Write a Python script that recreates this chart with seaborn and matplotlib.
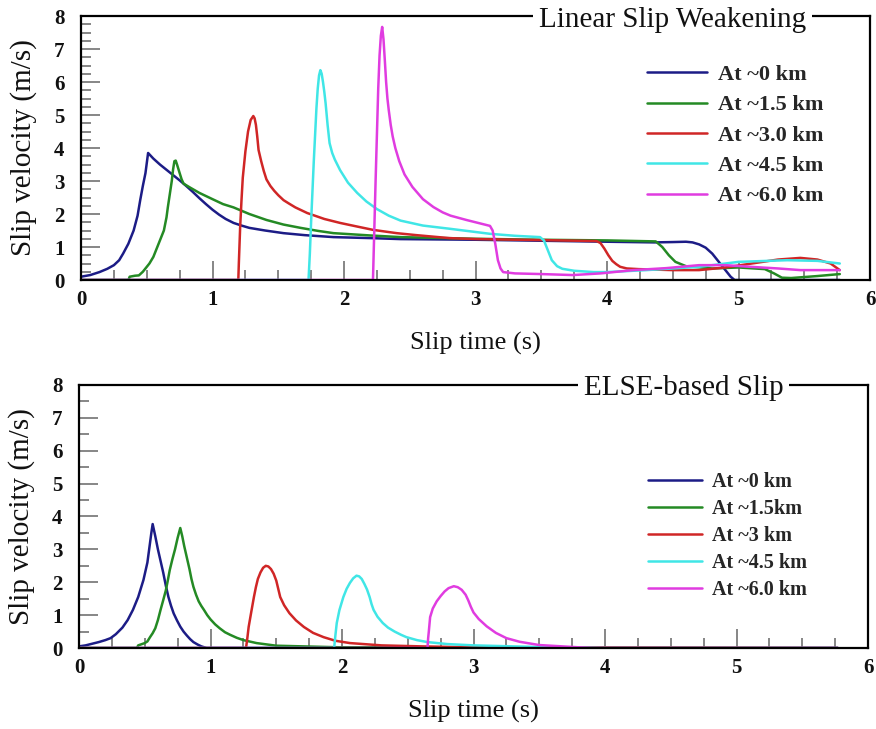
import matplotlib
matplotlib.use("Agg")
import matplotlib.pyplot as plt
from matplotlib.ticker import MultipleLocator
import pandas as pd
import seaborn as sns

# ---------------- Linear slip weakening: slip-velocity histories ----------------
lsw_labels = ["At ~0 km", "At ~1.5 km", "At ~3.0 km", "At ~4.5 km", "At ~6.0 km"]

lsw_t_0km = [0, 0.07, 0.14, 0.20, 0.25, 0.29, 0.32, 0.36, 0.40, 0.43, 0.45, 0.47, 0.49,
             0.51, 0.55, 0.60, 0.65, 0.70, 0.75, 0.80, 0.85, 0.90, 0.95, 1.00, 1.05, 1.10,
             1.16, 1.22, 1.28, 1.40, 1.54, 1.70, 1.92, 2.20, 2.43, 3.0, 3.5, 4.0, 4.36,
             4.50, 4.60, 4.65, 4.70, 4.75, 4.80, 4.85, 4.90, 4.94, 4.97, 5.3, 5.77]
lsw_v_0km = [0.10, 0.15, 0.24, 0.34, 0.45, 0.60, 0.80, 1.10, 1.50, 1.95, 2.42, 2.85, 3.24,
             3.85, 3.68, 3.50, 3.34, 3.18, 3.02, 2.85, 2.67, 2.48, 2.30, 2.13, 1.98, 1.85,
             1.73, 1.65, 1.58, 1.50, 1.42, 1.36, 1.30, 1.27, 1.24, 1.22, 1.19, 1.16, 1.14,
             1.15, 1.16, 1.14, 1.08, 0.98, 0.80, 0.55, 0.30, 0.10, 0.0, 0.0, 0.0]

lsw_t_1p5km = [0, 0.36, 0.37, 0.41, 0.44, 0.47, 0.49, 0.52, 0.55, 0.57, 0.60, 0.63, 0.65,
               0.66, 0.675, 0.69, 0.70, 0.71, 0.72, 0.73, 0.75, 0.765, 0.78, 0.83, 0.90,
               1.00, 1.08, 1.16, 1.28, 1.41, 1.54, 1.67, 1.80, 1.92, 2.20, 2.43, 3.0, 3.5,
               4.0, 4.37, 4.42, 4.47, 4.52, 4.60, 4.80, 5.0, 5.2, 5.27, 5.33, 5.40, 5.6, 5.77]
lsw_v_1p5km = [0.0, 0.0, 0.10, 0.13, 0.14, 0.25, 0.35, 0.50, 0.70, 0.90, 1.20, 1.50, 1.90,
               2.20, 2.60, 3.00, 3.35, 3.60, 3.62, 3.50, 3.24, 3.05, 2.92, 2.80, 2.64,
               2.45, 2.30, 2.20, 2.00, 1.82, 1.68, 1.58, 1.49, 1.42, 1.35, 1.30, 1.25, 1.22,
               1.20, 1.17, 1.00, 0.75, 0.55, 0.42, 0.35, 0.38, 0.33, 0.20, 0.07, 0.06, 0.12, 0.18]

lsw_t_3km = [0, 1.196, 1.20, 1.21, 1.22, 1.23, 1.25, 1.27, 1.29, 1.31, 1.32, 1.33, 1.34,
             1.35, 1.37, 1.39, 1.41, 1.44, 1.47, 1.50, 1.54, 1.58, 1.63, 1.72, 1.85, 1.97,
             2.10, 2.22, 2.40, 2.55, 2.80, 3.0, 3.5, 3.92, 3.95, 3.98, 4.01, 4.04, 4.07,
             4.10, 4.15, 4.24, 4.5, 4.7, 4.9, 5.1, 5.3, 5.47, 5.6, 5.7, 5.77]
lsw_v_3km = [0.0, 0.0, 0.50, 1.60, 2.40, 3.10, 3.90, 4.50, 4.85, 4.97, 4.90, 4.70, 4.35,
             3.94, 3.60, 3.30, 3.05, 2.85, 2.70, 2.57, 2.42, 2.32, 2.20, 2.03, 1.85, 1.73,
             1.62, 1.52, 1.42, 1.36, 1.27, 1.24, 1.21, 1.18, 1.12, 0.95, 0.75, 0.58, 0.48,
             0.40, 0.35, 0.33, 0.30, 0.30, 0.38, 0.50, 0.62, 0.67, 0.62, 0.50, 0.30]

lsw_t_4p5km = [0, 1.73, 1.74, 1.75, 1.76, 1.77, 1.78, 1.79, 1.80, 1.81, 1.82, 1.83, 1.84,
               1.85, 1.86, 1.875, 1.89, 1.91, 1.93, 1.97, 2.03, 2.10, 2.17, 2.25, 2.34, 2.43,
               2.60, 2.81, 3.11, 3.30, 3.49, 3.52, 3.55, 3.58, 3.62, 3.66, 3.75, 3.90, 4.0,
               4.3, 4.7, 5.0, 5.37, 5.6, 5.77]
lsw_v_4p5km = [0.0, 0.0, 0.80, 1.80, 2.70, 3.60, 4.40, 5.20, 5.80, 6.20, 6.36, 6.25, 6.00,
               5.70, 5.35, 4.70, 4.15, 3.85, 3.65, 3.33, 2.95, 2.64, 2.38, 2.15, 1.95, 1.80,
               1.65, 1.55, 1.40, 1.34, 1.30, 1.20, 0.90, 0.60, 0.42, 0.34, 0.28, 0.24, 0.24,
               0.30, 0.40, 0.55, 0.60, 0.58, 0.50]

lsw_t_6km = [0, 2.22, 2.23, 2.24, 2.25, 2.26, 2.27, 2.28, 2.29, 2.30, 2.31, 2.32, 2.33,
             2.34, 2.355, 2.37, 2.39, 2.42, 2.46, 2.52, 2.60, 2.68, 2.75, 2.81, 2.93, 3.05,
             3.11, 3.13, 3.15, 3.17, 3.19, 3.21, 3.30, 3.50, 3.74, 3.95, 4.2, 4.45, 4.7,
             4.9, 5.09, 5.3, 5.47, 5.77]
lsw_v_6km = [0.0, 0.0, 1.50, 3.00, 4.40, 5.80, 6.80, 7.40, 7.67, 7.30, 6.67, 6.00, 5.50,
             5.15, 4.70, 4.35, 4.00, 3.60, 3.20, 2.82, 2.45, 2.21, 2.05, 1.95, 1.82, 1.70,
             1.64, 1.50, 1.10, 0.60, 0.35, 0.24, 0.20, 0.18, 0.15, 0.20, 0.30, 0.36, 0.45,
             0.45, 0.40, 0.35, 0.30, 0.30]

# ---------------- ELSE-based slip: slip-velocity histories ----------------
else_labels = ["At ~0 km", "At ~1.5km", "At ~3 km", "At ~4.5 km", "At ~6.0 km"]

else_t_0km = [0, 0.05, 0.10, 0.15, 0.20, 0.24, 0.28, 0.33, 0.37, 0.41, 0.45, 0.49, 0.52,
              0.54, 0.55, 0.56, 0.58, 0.60, 0.62, 0.64, 0.66, 0.68, 0.70, 0.72, 0.745,
              0.77, 0.795, 0.82, 0.845, 0.87, 0.90, 0.93, 0.97, 1.3, 5.77]
else_v_0km = [0.05, 0.08, 0.13, 0.18, 0.24, 0.30, 0.42, 0.62, 0.85, 1.16, 1.55, 2.07, 2.60,
              3.20, 3.50, 3.77, 3.40, 3.00, 2.65, 2.30, 1.90, 1.55, 1.28, 1.05, 0.84,
              0.65, 0.50, 0.38, 0.27, 0.18, 0.11, 0.05, 0.0, 0.0, 0.0]

else_t_1p5km = [0, 0.44, 0.45, 0.50, 0.52, 0.54, 0.56, 0.58, 0.60, 0.62, 0.64, 0.66, 0.675,
                0.69, 0.71, 0.73, 0.75, 0.77, 0.785, 0.80, 0.82, 0.84, 0.855, 0.87, 0.89,
                0.91, 0.93, 0.95, 0.975, 1.0, 1.035, 1.07, 1.11, 1.15, 1.20, 1.25, 1.35,
                1.5, 2.0, 5.77]
else_v_1p5km = [0.0, 0.0, 0.08, 0.15, 0.20, 0.33, 0.45, 0.60, 0.85, 1.16, 1.45, 1.75, 2.05,
                2.37, 2.70, 3.00, 3.35, 3.65, 3.40, 3.10, 2.75, 2.40, 2.10, 1.86, 1.62,
                1.42, 1.28, 1.16, 1.00, 0.87, 0.72, 0.60, 0.48, 0.40, 0.31, 0.24, 0.15,
                0.07, 0.02, 0.0]

else_t_3km = [0, 1.27, 1.275, 1.28, 1.29, 1.31, 1.33, 1.345, 1.36, 1.38, 1.40, 1.42, 1.44,
              1.46, 1.48, 1.50, 1.515, 1.53, 1.56, 1.60, 1.65, 1.71, 1.78, 1.86, 1.95,
              2.06, 2.30, 2.60, 3.0, 5.77]
else_v_3km = [0.0, 0.0, 0.15, 0.30, 0.64, 1.10, 1.55, 1.85, 2.10, 2.30, 2.44, 2.50, 2.48,
              2.40, 2.26, 2.05, 1.80, 1.55, 1.30, 1.06, 0.84, 0.64, 0.46, 0.33, 0.22,
              0.15, 0.08, 0.05, 0.02, 0.0]

else_t_4p5km = [0, 1.94, 1.945, 1.95, 1.96, 1.98, 2.01, 2.035, 2.06, 2.085, 2.11, 2.13,
                2.15, 2.17, 2.19, 2.21, 2.225, 2.24, 2.27, 2.31, 2.35, 2.40, 2.45, 2.49,
                2.57, 2.65, 2.80, 3.0, 3.5, 4.0, 5.77]
else_v_4p5km = [0.0, 0.0, 0.20, 0.40, 0.76, 1.15, 1.55, 1.80, 1.98, 2.12, 2.20, 2.18,
                2.10, 1.95, 1.78, 1.55, 1.33, 1.16, 0.95, 0.76, 0.62, 0.50, 0.40, 0.33,
                0.24, 0.18, 0.12, 0.08, 0.03, 0.0, 0.0]

else_t_6km = [0, 2.65, 2.655, 2.66, 2.67, 2.69, 2.72, 2.75, 2.78, 2.81, 2.85, 2.88, 2.91,
              2.94, 2.96, 2.98, 3.0, 3.04, 3.10, 3.17, 3.25, 3.35, 3.5, 3.76, 3.9, 5.77]
else_v_6km = [0.0, 0.0, 0.30, 0.50, 0.94, 1.20, 1.42, 1.58, 1.72, 1.82, 1.88, 1.85, 1.77,
              1.62, 1.45, 1.25, 1.08, 0.88, 0.66, 0.46, 0.30, 0.19, 0.09, 0.03, 0.0, 0.0]

colors = ["#1c1c86", "#248a24", "#d02626", "#40e6e6", "#e03ce0"]

x_ticks = [0, 1, 2, 3, 4, 5, 6]
y_ticks = [0, 1, 2, 3, 4, 5, 6, 7, 8]


def long_table(labels, series):
    frames = []
    for lab, (t, v) in zip(labels, series):
        frames.append(pd.DataFrame({"time": t, "velocity": v, "station": lab}))
    return pd.concat(frames, ignore_index=True)


lsw_df = long_table(lsw_labels, [(lsw_t_0km, lsw_v_0km), (lsw_t_1p5km, lsw_v_1p5km),
                                 (lsw_t_3km, lsw_v_3km), (lsw_t_4p5km, lsw_v_4p5km),
                                 (lsw_t_6km, lsw_v_6km)])
else_df = long_table(else_labels, [(else_t_0km, else_v_0km), (else_t_1p5km, else_v_1p5km),
                                   (else_t_3km, else_v_3km), (else_t_4p5km, else_v_4p5km),
                                   (else_t_6km, else_v_6km)])

sns.set_theme(style="white")
plt.rcParams["font.family"] = ["Liberation Serif", "DejaVu Serif"]

fig = plt.figure(figsize=(8.76, 7.29), dpi=100)
ax_top = fig.add_axes([0.0925, 0.6159, 0.9007, 0.3621])
ax_bot = fig.add_axes([0.0902, 0.1111, 0.9007, 0.3608])


def style_panel(ax, df, labels, title, title_x, title_y, y_minor, leg_anchor, leg_size,
                leg_spacing):
    sns.lineplot(data=df, x="time", y="velocity", hue="station", hue_order=labels,
                 palette=colors, sort=False, estimator=None, linewidth=1.8, ax=ax)
    ax.set_xlim(0, 6)
    ax.set_ylim(0, 8)
    ax.set_xticks(x_ticks)
    ax.set_yticks(y_ticks)
    ax.set_xticklabels([str(v) for v in x_ticks], fontweight="bold", fontsize=15)
    ax.set_yticklabels([str(v) for v in y_ticks], fontweight="bold", fontsize=15)
    ax.xaxis.set_minor_locator(MultipleLocator(0.25))
    ax.yaxis.set_minor_locator(MultipleLocator(y_minor))
    ax.tick_params(which="both", direction="in", color="#666666", width=1.1,
                   top=False, right=False, bottom=True, left=True)
    ax.tick_params(which="major", length=14)
    ax.tick_params(which="minor", length=7)
    ax.tick_params(axis="x", which="major", pad=7, labelcolor="#111111")
    ax.tick_params(axis="y", which="major", pad=12, labelcolor="#111111")
    for sp in ax.spines.values():
        sp.set_color("black")
        sp.set_linewidth(1.6)
    ax.set_xlabel("Slip time (s)", fontsize=19, labelpad=16, color="#111111")
    ax.set_ylabel("Slip velocity (m/s)", fontsize=21, labelpad=12, color="#111111")
    ax.text(title_x, title_y, title, transform=ax.transAxes, ha="center", va="baseline",
            fontsize=21, color="#111111", zorder=6, clip_on=False,
            bbox=dict(boxstyle="square,pad=0.2", fc="white", ec="none"))
    handles, labs = ax.get_legend_handles_labels()
    leg = ax.legend(handles, labs, loc="upper left", bbox_to_anchor=leg_anchor,
                    frameon=False, borderaxespad=0, borderpad=0,
                    handlelength=2.7, handletextpad=0.5, labelspacing=leg_spacing,
                    prop={"family": ["Liberation Serif", "DejaVu Serif"],
                          "weight": "bold", "size": leg_size})
    for ln in leg.get_lines():
        ln.set_linewidth(1.8)


style_panel(ax_top, lsw_df, lsw_labels, "Linear Slip Weakening", 0.75, 0.958, 0.25,
            (0.717, 0.816), 16, 0.44)
style_panel(ax_bot, else_df, else_labels, "ELSE-based Slip", 0.766, 0.962, 0.5,
            (0.721, 0.669), 14.5, 0.35)

fig.savefig("out.png", dpi=100)
